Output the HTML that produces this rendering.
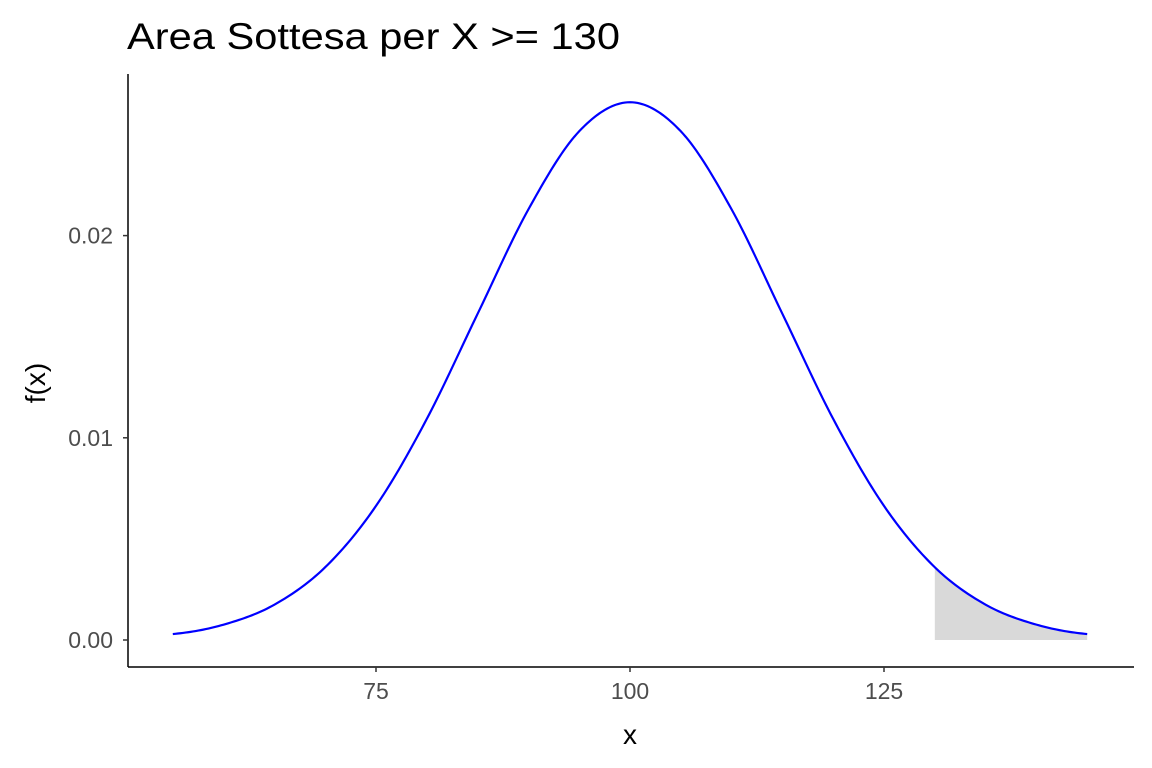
<!DOCTYPE html>
<html><head><meta charset="utf-8"><style>
body{margin:0;background:#fff}
svg{display:block;font-family:"Liberation Sans",Arial,sans-serif}
</style></head><body>
<svg id="chart" width="1152" height="768" viewBox="0 0 1152 768">
<text x="127" y="49" font-size="37" fill="#000" textLength="493" lengthAdjust="spacingAndGlyphs">Area Sottesa per X &gt;= 130</text>
<g id="plot"></g>
<line x1="128" y1="74" x2="128" y2="667" stroke="#000" stroke-width="1.5"/>
<line x1="128" y1="667" x2="1134" y2="667" stroke="#000" stroke-width="1.5"/>
<g id="xticks"></g>
<g id="yticks"></g>
<text x="630" y="744" font-size="28" text-anchor="middle">x</text>
<text transform="translate(45,383) rotate(-90)" font-size="28" text-anchor="middle">f(x)</text>
</svg>
<script>
const xs = [55,60,65,70,75,80,85,90,95,100,105,110,115,120,125,130,135,140,145];
const ys = [0.000295,0.000760,0.001748,0.003599,0.006632,0.010934,0.016131,0.021297,0.025159,0.026596,0.025159,0.021297,0.016131,0.010934,0.006632,0.003599,0.001748,0.000760,0.000295];
const threshold = [130];
const xTickVals = [75,100,125];
const xTickLabels = ["75","100","125"];
const yTickVals = [0,0.01,0.02];
const yTickLabels = ["0.00","0.01","0.02"];

const NS="http://www.w3.org/2000/svg";
const sx = v => 630 + (v-100)*10.16;
const sy = v => 640 - v*20220;
function mk(tag, attrs, parent){const e=document.createElementNS(NS,tag);for(const k in attrs)e.setAttribute(k,attrs[k]);parent.appendChild(e);return e;}

function dens(x){
  let i=0; while(i<xs.length-2 && x>xs[i+1]) i++;
  const p0=ys[Math.max(i-1,0)],p1=ys[i],p2=ys[i+1],p3=ys[Math.min(i+2,ys.length-1)];
  const t=(x-xs[i])/(xs[i+1]-xs[i]);
  return 0.5*((2*p1)+(-p0+p2)*t+(2*p0-5*p1+4*p2-p3)*t*t+(-p0+3*p1-3*p2+p3)*t*t*t);
}
const plot=document.getElementById('plot');
const x0=xs[0], x1=xs[xs.length-1];
let d=`M${sx(threshold[0])},${sy(0)}`;
for(let x=threshold[0]; x<=x1+1e-9; x+=0.25) d+=` L${sx(x).toFixed(2)},${sy(dens(x)).toFixed(2)}`;
d+=` L${sx(x1)},${sy(0)} Z`;
const area=mk('path',{d:d,fill:'#d9d9d9',stroke:'none'},plot);


let l='';
for(let x=x0; x<=x1+1e-9; x+=0.25) l+=(l?' L':'M')+sx(x).toFixed(2)+','+sy(dens(x)).toFixed(2);
const line=mk('path',{d:l,fill:'none',stroke:'#0000ff','stroke-width':2.2},plot);



const xt=document.getElementById('xticks');
xTickVals.forEach((v,i)=>{
  const t=mk('line',{x1:sx(v),x2:sx(v),y1:667,y2:672,stroke:'#333','stroke-width':1.5},xt);
  
  
  const tx=mk('text',{x:sx(v),y:699,'font-size':23,fill:'#4d4d4d','text-anchor':'middle'},xt);
  tx.textContent=xTickLabels[i];
  
  
});
const yt=document.getElementById('yticks');
yTickVals.forEach((v,i)=>{
  const t=mk('line',{x1:123,x2:128,y1:sy(v),y2:sy(v),stroke:'#333','stroke-width':1.5},yt);
  
  
  const tx=mk('text',{x:113,y:sy(v)+8,'font-size':23,fill:'#4d4d4d','text-anchor':'end'},yt);
  tx.textContent=yTickLabels[i];
  
  
});
</script>
</body></html>
